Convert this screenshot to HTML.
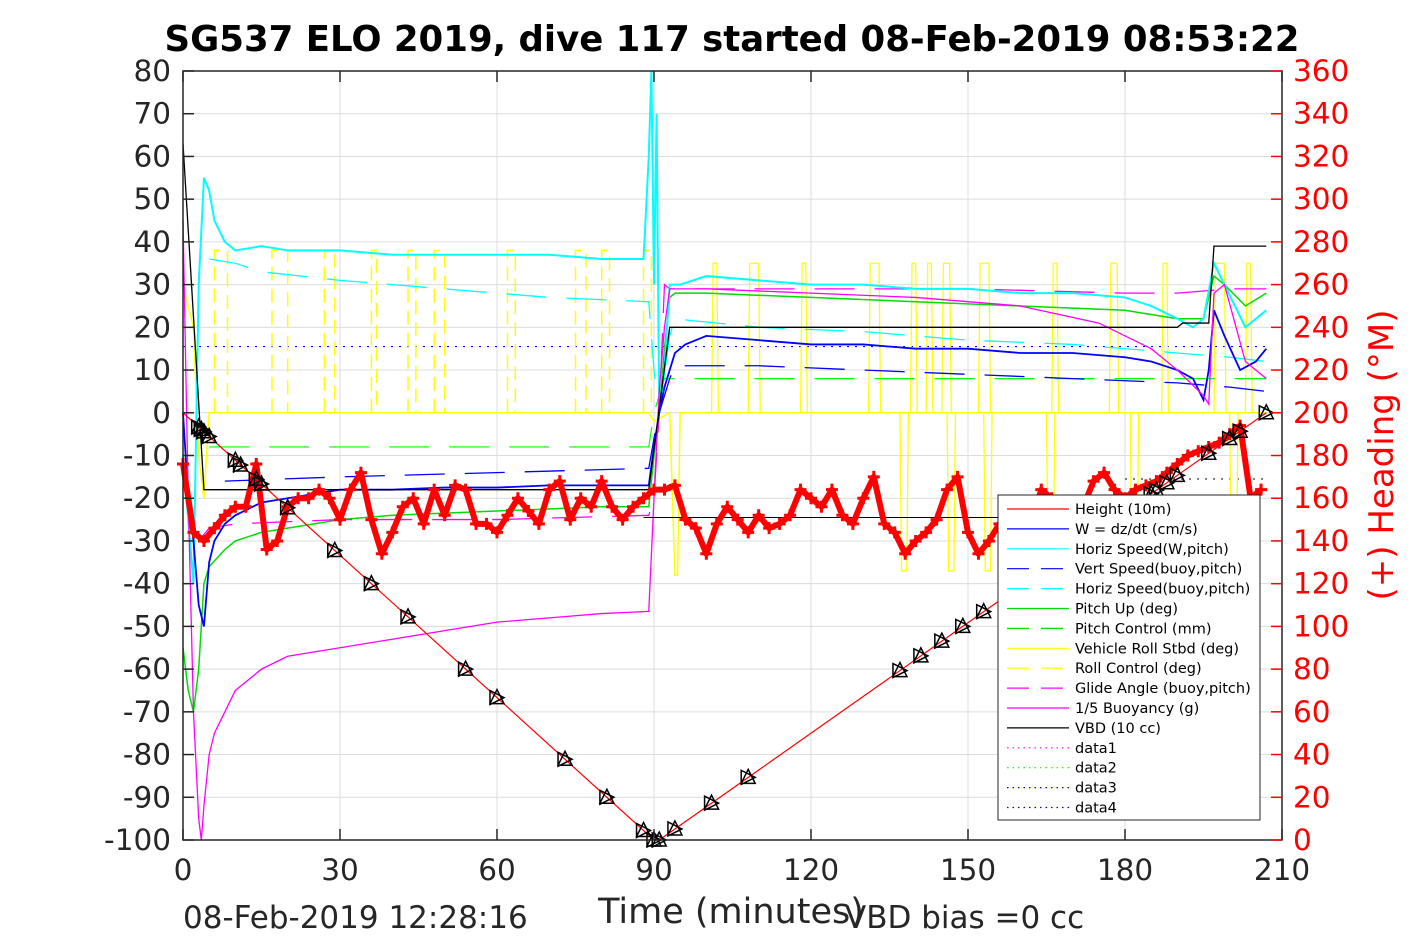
<!DOCTYPE html>
<html><head><meta charset="utf-8">
<style>
body{margin:0;background:#fff;}
svg text{font-family:"DejaVu Sans","Liberation Sans",sans-serif;}
</style></head>
<body>
<svg id="c" width="1417" height="945" xmlns="http://www.w3.org/2000/svg">
<rect width="1417" height="945" fill="#fff"/>
<text x="732" y="51" text-anchor="middle" font-size="35.5" font-weight="bold">SG537 ELO 2019, dive 117 started 08-Feb-2019 08:53:22</text>
<g id="grid"></g>
<g id="plot"></g>
<rect x="183" y="71" width="1099" height="769" fill="none" stroke="#262626" stroke-width="1.5"/>
<g id="axes"></g>
<text x="183" y="928" font-size="31" fill="#262626">08-Feb-2019 12:28:16</text>
<text x="731" y="923" text-anchor="middle" font-size="35" fill="#262626">Time (minutes)</text>
<text x="845" y="928" font-size="31" fill="#262626">VBD bias =0 cc</text>
<text transform="translate(1393,455) rotate(-90)" text-anchor="middle" font-size="34" fill="#f00">(+) Heading (°M)</text>
<g id="legend"></g>
</svg>
<script>
const xTicks=[0,30,60,90,120,150,180,210];
const yTicks=[80,70,60,50,40,30,20,10,0,-10,-20,-30,-40,-50,-60,-70,-80,-90,-100];
const hTicks=[360,340,320,300,280,260,240,220,200,180,160,140,120,100,80,60,40,20,0];
const heightT=[0,90,91,207];
const heightV=[0,-100,-100,0];
const markerT=[3,3.5,4,5,10,11,14,15,20,29,36,43,54,60,73,81,88,90,91,94,101,108,137,141,145,149,153,178,180,182,185,186,188,190,196,200,202,207];
const horizWT=[0,2,3,4,5,6,8,10,15,20,30,40,50,60,70,80,88,89,89.5,90,90.5,91,92,93,95,100,110,120,130,140,150,160,170,180,185,190,193,195,197,199,201,203,205,207];
const horizWV=[-10,-40,30,55,52,45,40,38,39,38,38,37,37,37,37,36,36,60,80,30,70,0,10,30,30,32,31,30,30,29,29,28,28,27,25,22,20,22,35,30,25,20,22,24];
const wT=[0,1,2,3,4,5,6,8,10,15,20,30,40,50,60,70,80,89,90,91,92,94,96,100,110,120,130,140,150,160,170,180,185,190,193,195,196,197,199,202,205,207];
const wV=[0,-20,-30,-45,-50,-35,-30,-26,-24,-21,-20,-18,-18,-17.5,-17.5,-17,-17,-17,-8,0,6,14,16,18,17,16,16,15,15,14,14,13,12,10,8,3,10,24,18,10,12,15];
const vbT=[8,30,60,89,90,91,93,94,110,130,150,170,190,200,207];
const vbV=[-16,-15,-14,-13,-6,0,8,11,11,10,9,8,7,6,5];
const hbT=[5,10,15,30,50,70,89,90,91,93,94,110,130,150,170,190,200,207];
const hbV=[36,35,33,31,29,27,26,10,0,18,22,20,19,17,16,14,13,12];
const pitchT=[0,1,2,3,4,5,8,10,15,20,30,40,60,80,89,90,91,92,93,94,100,120,140,160,180,190,195,197,199,203,207];
const pitchV=[-55,-65,-70,-60,-40,-36,-32,-30,-28,-27,-25,-24,-23,-22,-22,-10,0,15,27,28,28,27,26,25,24,22,22,32,30,25,28];
const pcT=[5,89,90,92,207];
const pcV=[-8,-8,0,8,8];
const glideT=[3,5,10,30,60,89,90,91,92,93,100,150,180,190,200,207];
const glideV=[-30,-27,-26,-25,-25,-24,-20,0,30,29,29,29,28,28,29,29];
const buoyT=[0,1,2,3,3.5,4,5,6,8,10,15,20,30,40,50,60,70,80,89,90,91,92,93,100,120,140,160,175,185,190,195,196,197,199,203,207];
const buoyV=[45,-20,-70,-95,-100,-92,-80,-75,-70,-65,-60,-57,-55,-53,-51,-49,-48,-47,-46.5,-20,5,20,29,29,28,27,25,21,15,10,4,2,28,30,12,8];
const vbdT=[0,4,89,93,190,191,196,197,207];
const vbdV=[63,-18,-18,20,20,21,21,39,39];
const rollT=[0,2,3,4,5,89,90,93,94,94.5,95,207];
const rollV=[30,20,-10,-20,0,0,-2,0,-38,-38,0,0];
const rollUpT=[6,17,27,36,43,48,62,75,80,88];
const rollUpW=[2.5,3,2,1,1.5,2,1.5,2,1.5,1.5];
const rollClimbT=[101,108,118,131,139,142,145,152,166,177,187,197,203];
const rollClimbW=[1,2,1,2,1,1,1.5,2,1,1.5,1,2,1];
const rollDownT=[137,146,153,165,181,200];
const headT=[0,2,4,6,8,10,12,14,16,18,20,22,24,26,28,30,32,34,36,38,40,42,44,46,48,50,52,54,56,58,60,62,64,66,68,70,72,74,76,78,80,82,84,86,88,90,92,94,96,98,100,102,104,106,108,110,112,114,116,118,120,122,124,126,128,130,132,134,136,138,140,142,144,146,148,150,152,154,156,158,160,162,164,166,168,170,172,174,176,178,180,182,184,186,188,190,192,194,196,198,200,202,204,206];
const headV=[176,144,140,146,152,156,156,176,136,140,156,160,160,164,160,150,164,172,150,134,144,156,160,148,164,152,166,164,148,148,144,152,160,154,148,164,168,150,160,156,168,156,150,156,160,164,164,166,150,146,134,148,156,150,144,152,146,148,152,164,160,156,164,152,148,160,170,148,144,134,140,144,150,164,170,144,134,140,148,152,156,148,164,160,156,150,156,168,172,164,160,164,166,168,172,176,180,182,184,186,190,194,160,164];

const NS='http://www.w3.org/2000/svg';
const X=t=>183+t*(1099/210);
const Y=v=>840-(v+100)*(769/180);
const YH=h=>840-h*(769/360);
function el(tag,attrs,parent){const e=document.createElementNS(NS,tag);for(const k in attrs)e.setAttribute(k,attrs[k]);parent.appendChild(e);return e;}
const grid=document.getElementById('grid'),plot=document.getElementById('plot'),axes=document.getElementById('axes'),leg=document.getElementById('legend');
xTicks.forEach(t=>{
  const g=el('line',{x1:X(t),x2:X(t),y1:71,y2:840,stroke:'#dcdcdc','stroke-width':1},grid);
  
  
  el('line',{x1:X(t),x2:X(t),y1:840,y2:829,stroke:'#262626','stroke-width':1.5},axes);
  el('line',{x1:X(t),x2:X(t),y1:71,y2:82,stroke:'#262626','stroke-width':1.5},axes);
  const tx=el('text',{x:X(t),y:880,'text-anchor':'middle','font-size':29.5,fill:'#262626'},axes);tx.textContent=t;
  
  
});
yTicks.forEach(v=>{
  const g=el('line',{x1:183,x2:1282,y1:Y(v),y2:Y(v),stroke:'#dcdcdc','stroke-width':1},grid);
  
  
  el('line',{x1:183,x2:194,y1:Y(v),y2:Y(v),stroke:'#262626','stroke-width':1.5},axes);
  const tx=el('text',{x:171,y:Y(v)+10,'text-anchor':'end','font-size':29.5,fill:'#262626'},axes);tx.textContent=v;
  
  
});
hTicks.forEach(h=>{
  el('line',{x1:1271,x2:1282,y1:YH(h),y2:YH(h),stroke:'#f00','stroke-width':1.5},axes);
  const tx=el('text',{x:1293,y:YH(h)+10,'font-size':29.5,fill:'#f00'},axes);tx.textContent=h;
  
  
});
function line(T,V,color,dash,name,w){
  const p=el('polyline',{points:T.map((t,i)=>X(t)+','+Y(V[i])).join(' '),fill:'none',stroke:color,'stroke-width':w||1.3,'stroke-dasharray':dash||'none'},plot);
  
  
}
line([0,207],[15.5,15.5],'#00f','2,6','data3-line',1.2);
line([180,207],[-15.5,-15.5],'#000','2,6','data4-line',1);
line(rollT,rollV,'#ff0',null,'vehicle-roll-line',1.5);
rollUpT.forEach((t,i)=>{line([t,t,t+rollUpW[i],t+rollUpW[i]],[0,38,38,0],'#ff0','14,8','roll-control-pulse',1.5);});
rollClimbT.forEach((t,i)=>{line([t,t+0.3,t+rollClimbW[i],t+rollClimbW[i]+0.3],[0,35,35,0],'#ff0',null,'roll-climb-spike',1.3);});
rollDownT.forEach(t=>{line([t,t+0.3,t+1.3,t+1.6],[0,-37,-37,0],'#ff0',null,'roll-down-spike',1.3);});
line(pcT,pcV,'#0f0','40,20','pitch-control-line',1.2);
line(pitchT,pitchV,'#0d0',null,'pitch-up-line',1.5);
line(glideT,glideV,'#f0f','40,20','glide-angle-line',1.3);
line(hbT,hbV,'#0ff','40,20','horiz-speed-buoy-line',1.3);
line(vbT,vbV,'#00f','40,20','vert-speed-buoy-line',1.3);
line(horizWT,horizWV,'#0ff',null,'horiz-speed-w-line',2);
line(wT,wV,'#00f',null,'w-line',1.8);
line(buoyT,buoyV,'#f0f',null,'buoyancy-line',1.3);
line(vbdT,vbdV,'#000',null,'vbd-line',1.3);
line([88,190],[-24.5,-24.5],'#000',null,'vbd-ref-line',1);
line(heightT,heightV,'#f00',null,'height-line',1.2);
const hp=el('polyline',{points:headT.map((t,i)=>X(t)+','+YH(headV[i])).join(' '),fill:'none',stroke:'#f00','stroke-width':6,'stroke-linejoin':'round'},plot);


headT.forEach((t,i)=>{
  const x=X(t),y=YH(headV[i]);
  const p=el('path',{d:`M${x-6} ${y}H${x+6}M${x} ${y-6}V${y+6}`,stroke:'#f00','stroke-width':3},plot);
  
  
});
function hAt(t){for(let i=0;i<heightT.length-1;i++){if(t<=heightT[i+1]){const f=(t-heightT[i])/(heightT[i+1]-heightT[i]);return heightV[i]+f*(heightV[i+1]-heightV[i]);}}return heightV[heightV.length-1];}
markerT.forEach(t=>{
  const x=X(t),y=Y(hAt(t));
  const p=el('path',{d:`M${x-7} ${y-7}L${x+7} ${y}L${x-7} ${y+7}Z M${x} ${y-8}L${x+7} ${y+6}L${x-7} ${y+6}Z`,fill:'none',stroke:'#000','stroke-width':1.5},plot);
  
  
});
const legItems=[['Height (10m)','#f00',null],['W = dz/dt (cm/s)','#00f',null],['Horiz Speed(W,pitch)','#0ff',null],['Vert Speed(buoy,pitch)','#00f','22,12'],['Horiz Speed(buoy,pitch)','#0ff','22,12'],['Pitch Up (deg)','#0d0',null],['Pitch Control (mm)','#0d0','22,12'],['Vehicle Roll Stbd (deg)','#ff0',null],['Roll Control (deg)','#ff0','22,12'],['Glide Angle (buoy,pitch)','#f0f','22,12'],['1/5 Buoyancy (g)','#f0f',null],['VBD (10 cc)','#000',null],['data1','#f0f','1.5,4'],['data2','#0f0','1.5,4'],['data3','#00f','1.5,4'],['data4','#00f','1.5,4']];
const lb=el('rect',{x:998,y:495,width:262,height:325,fill:'#fff',stroke:'#262626','stroke-width':1},leg);


legItems.forEach((it,i)=>{
  const y=509+i*19.9;
  el('line',{x1:1007,x2:1069,y1:y,y2:y,stroke:it[1],'stroke-width':1.2,'stroke-dasharray':it[2]||'none'},leg);
  const t=el('text',{x:1075,y:y+5,'font-size':14.5,fill:'#000'},leg);t.textContent=it[0];
  
  
});
</script>
</body></html>
